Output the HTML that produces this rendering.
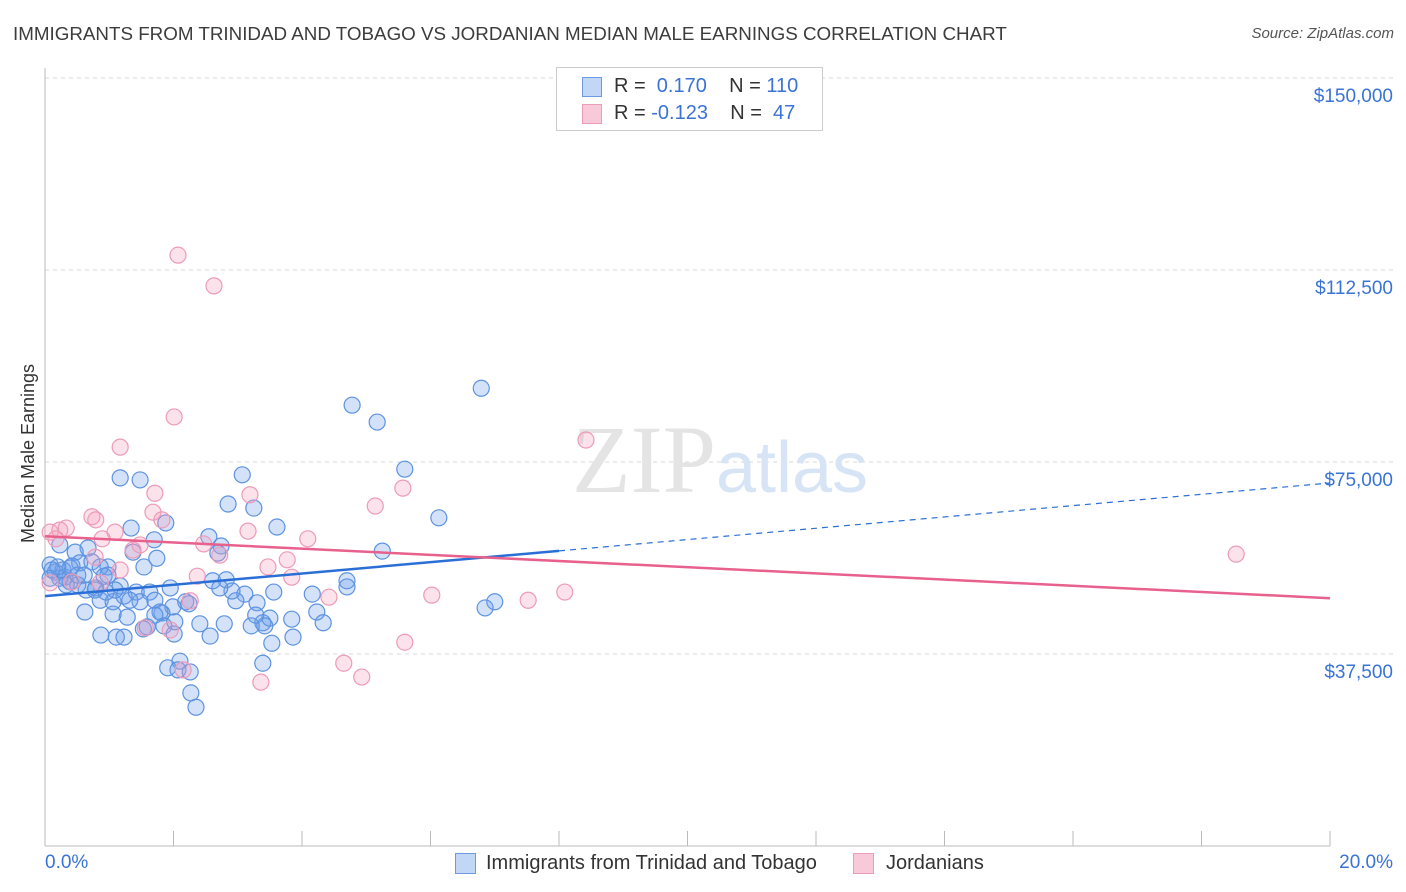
<!DOCTYPE html>
<html><head><meta charset="utf-8"><style>
body{margin:0;background:#fff;font-family:"Liberation Sans",sans-serif;}
#wrap{position:relative;width:1406px;height:892px;overflow:hidden;}
.t{position:absolute;white-space:nowrap;}
</style></head><body>
<div id="wrap">
<div class="t" style="left:13px;top:23px;font-size:18.8px;color:#3c3c3c;">IMMIGRANTS FROM TRINIDAD AND TOBAGO VS JORDANIAN MEDIAN MALE EARNINGS CORRELATION CHART</div>
<div class="t" style="right:12px;top:25px;font-size:15px;color:#555;font-style:italic;">Source: ZipAtlas.com</div>
<svg id="svg" width="1406" height="892" style="position:absolute;left:0;top:0;"></svg>
</div>
<script>
const blueX=[6.79,4.78,5.17,5.60,6.13,5.25,3.07,2.85,3.25,3.61,1.17,1.48,1.34,1.88,1.70,2.55,2.74,2.69,1.37,1.74,1.54,0.67,0.47,0.23,0.08,0.16,0.31,0.54,0.73,0.98,0.92,1.17,0.79,0.64,0.51,0.39,0.23,0.08,0.86,1.06,1.23,1.42,1.63,1.95,2.19,2.61,2.82,3.11,3.56,3.30,3.39,4.16,4.70,4.70,4.23,4.33,3.84,3.50,3.42,3.21,2.79,2.41,1.99,1.82,1.85,1.59,1.53,1.28,1.06,0.87,1.11,1.23,2.01,2.57,3.86,3.53,3.39,2.10,1.91,2.07,2.26,2.27,2.35,0.62,7.00,6.85,0.28,0.39,0.51,1.09,1.71,1.79,0.11,0.20,0.33,0.42,0.86,0.98,1.71,2.24,2.02,2.97,2.91,3.28,2.72,1.48,1.32,0.61,0.78,0.95];
const blueY=[89.4,86.1,82.8,73.6,64.1,57.6,72.5,66.8,66.0,62.3,71.9,71.5,62.1,63.1,59.8,60.4,58.6,57.2,57.4,56.2,54.5,58.2,57.4,58.8,54.9,53.5,52.5,55.3,55.5,54.5,52.7,50.8,50.4,50.0,51.0,51.6,52.3,52.3,48.0,47.7,48.8,49.6,49.6,50.4,47.7,51.8,52.0,49.2,49.6,47.5,43.6,49.2,51.8,50.6,45.7,43.6,44.3,44.5,43.0,43.0,43.4,43.4,46.7,45.5,43.0,42.8,42.4,44.7,45.3,41.2,40.8,40.8,41.4,41.0,40.8,39.6,35.7,36.1,34.8,34.4,34.0,29.9,27.1,45.7,47.7,46.5,53.9,54.3,52.9,50.0,48.0,45.7,53.9,54.5,51.0,54.7,54.5,52.9,45.1,47.3,43.8,47.9,49.8,45.1,50.4,47.7,48.0,52.9,50.0,49.6];
const pinkX=[2.07,2.63,2.01,1.17,8.42,5.57,5.14,1.71,3.19,1.68,0.73,0.79,0.33,0.23,0.08,1.09,1.82,3.16,4.09,2.47,2.72,1.37,0.89,3.47,3.77,3.84,2.37,0.78,0.08,0.42,2.26,4.42,6.02,7.52,8.09,1.95,1.56,2.15,4.65,4.93,3.36,5.60,18.54,0.86,1.17,0.17,1.48];
const pinkY=[115.4,109.4,83.8,77.9,79.3,69.9,66.4,68.9,68.6,65.2,64.3,63.7,62.1,61.7,61.3,61.3,63.7,61.5,60.0,59.0,56.8,57.8,60.0,54.5,55.9,52.5,52.7,56.4,51.4,51.6,47.9,48.6,49.0,48.0,49.6,42.2,42.6,34.4,35.7,33.0,32.0,39.8,57.0,51.4,53.9,60.0,58.8];
const yTicks=[37.5,75,112.5,150];
const yTickLabels=["$37,500","$75,000","$112,500","$150,000"];
const blueTrend=[48.8,70.9];
const pinkTrend=[60.5,48.4];
const blueSolidEnd=8;

const X0=45,X1=1330;
function sx(p){return X0+(X1-X0)*p/20;}
function sy(v){return 846-v*192/37.5;}
const svg=document.getElementById('svg');
const NS='http://www.w3.org/2000/svg';
function mk(tag,attrs,name){const e=document.createElementNS(NS,tag);for(const k in attrs)e.setAttribute(k,attrs[k]);


svg.appendChild(e);return e;}
yTicks.forEach((v,i)=>{
 mk('line',{x1:45,x2:1394,y1:sy(v),y2:sy(v),stroke:'#d8d8d8','stroke-dasharray':'4,4'},'gridline');
 const t=mk('text',{x:1393,y:sy(v)+24,'text-anchor':'end','font-size':19,fill:'#3a73d6','font-family':'Liberation Sans'},'y-tick-label');t.textContent=yTickLabels[i];
});
mk('line',{x1:45,x2:45,y1:68,y2:846,stroke:'#bbb'},'y-axis');
mk('line',{x1:45,x2:1330,y1:846,y2:846,stroke:'#bbb'},'x-axis');
for(let i=0;i<=10;i++){mk('line',{x1:sx(i*2),x2:sx(i*2),y1:831,y2:846,stroke:'#bbb'},'x-tick');}
const tw=mk('text',{x:720,y:492,'text-anchor':'middle','font-size':96,fill:'#e4e4e4','font-family':'Liberation Serif'},'watermark');tw.innerHTML='ZIP<tspan fill="#d6e4f5" font-family="Liberation Sans" font-size="72">atlas</tspan>';
for(let i=0;i<blueX.length;i++){mk('circle',{cx:sx(blueX[i]),cy:sy(blueY[i]),r:8,fill:'rgba(110,160,235,0.3)',stroke:'#5d93e0','stroke-width':1.2},'blue-point');}
for(let i=0;i<pinkX.length;i++){mk('circle',{cx:sx(pinkX[i]),cy:sy(pinkY[i]),r:8,fill:'rgba(245,160,190,0.3)',stroke:'#ec9bb8','stroke-width':1.2},'pink-point');}
function lv(tr,p){return tr[0]+(tr[1]-tr[0])*p/20;}
mk('line',{x1:sx(0),y1:sy(lv(blueTrend,0)),x2:sx(blueSolidEnd),y2:sy(lv(blueTrend,blueSolidEnd)),stroke:'#2a6fd6','stroke-width':2.5},'blue-trend-line');
mk('line',{x1:sx(blueSolidEnd),y1:sy(lv(blueTrend,blueSolidEnd)),x2:sx(20),y2:sy(lv(blueTrend,20)),stroke:'#2a6fd6','stroke-width':1.2,'stroke-dasharray':'6,5'},'blue-trend-extension');
mk('line',{x1:sx(0),y1:sy(lv(pinkTrend,0)),x2:sx(20),y2:sy(lv(pinkTrend,20)),stroke:'#e8608c','stroke-width':2.5},'pink-trend-line');
</script>
<div class="t" style="left:-61px;top:443px;font-size:18px;color:#333;transform:rotate(-90deg);">Median Male Earnings</div>
<div class="t" style="left:45px;top:852px;font-size:19px;color:#3a73d6;">0.0%</div>
<div class="t" style="right:13px;top:852px;font-size:19px;color:#3a73d6;">20.0%</div>
<div style="position:absolute;left:556px;top:67px;width:265px;height:62px;border:1px solid #ccc;background:#fff;font-size:20px;">
 <div style="position:absolute;left:25px;top:9px;width:18px;height:18px;background:#c2d7f5;border:1px solid #6b9be0;"></div>
 <div class="t" style="left:57px;top:7px;color:#333;">R = &nbsp;<span style="color:#3a73d6">0.170</span>&nbsp;&nbsp;&nbsp; N = <span style="color:#3a73d6">110</span></div>
 <div style="position:absolute;left:25px;top:36px;width:18px;height:18px;background:#f8cad9;border:1px solid #ec9bb8;"></div>
 <div class="t" style="left:57px;top:34px;color:#333;">R = <span style="color:#3a73d6">-0.123</span>&nbsp;&nbsp;&nbsp; N = &nbsp;<span style="color:#3a73d6">47</span></div>
</div>
<div style="position:absolute;left:455px;top:853px;font-size:20px;color:#333;">
 <div style="position:absolute;left:0;top:0;width:19px;height:19px;background:#c2d7f5;border:1px solid #6b9be0;"></div>
 <span class="t" style="left:31px;top:-1px;">Immigrants from Trinidad and Tobago</span></div>
<div style="position:absolute;left:853px;top:853px;font-size:20px;color:#333;">
 <div style="position:absolute;left:0;top:0;width:19px;height:19px;background:#f8cad9;border:1px solid #ec9bb8;"></div>
 <span class="t" style="left:33px;top:-1px;">Jordanians</span></div>
</body></html>
